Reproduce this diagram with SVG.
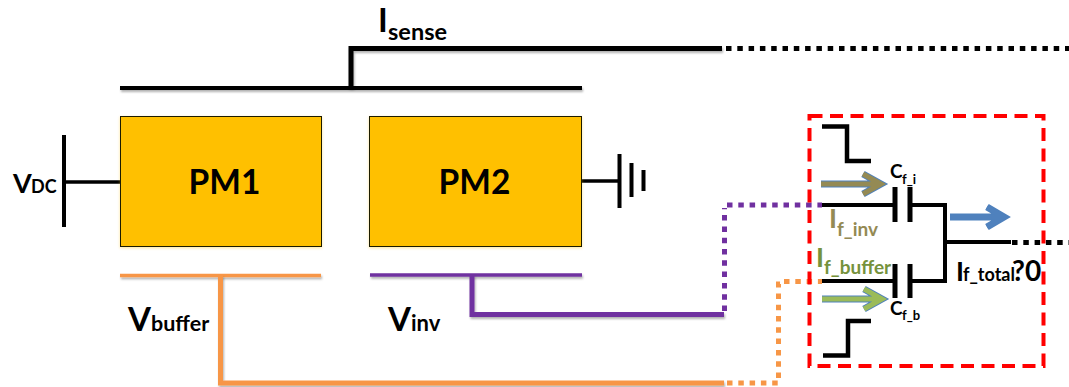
<svg xmlns="http://www.w3.org/2000/svg" width="1069" height="387" viewBox="0 0 1069 387">
<style>
text{font-family:Lato,"Liberation Sans",sans-serif;font-weight:700;fill:#000}
.w{fill:none;stroke-linejoin:miter;stroke-linecap:butt}
.k{stroke:#000}
.o{stroke:#F79646}
.p{stroke:#7030A0}
.d{stroke-dasharray:5.5 5.8}
.pm{fill:#FFC000;stroke:#1f1a00;stroke-width:1}
.pml{font-size:33.500px;text-anchor:middle}
.big{font-size:33px}
.sub{font-size:19px}
.oli{fill:#948A54}
.grn{fill:#76923C}
.ao{fill:none;stroke:#4F81BD;stroke-width:7;stroke-linecap:butt;stroke-linejoin:miter}
.ai{fill:none;stroke-width:5;stroke-linecap:butt;stroke-linejoin:miter}
.tip{fill:none;stroke:#4F81BD;stroke-width:7;stroke-linecap:round}
</style>
<defs>
<filter id="sh" x="0" y="0" width="1069" height="387" filterUnits="userSpaceOnUse"><feDropShadow dx="1" dy="2" stdDeviation="1.2" flood-color="#000" flood-opacity=".3"/></filter>
<filter id="gl" x="100" y="100" width="500" height="165" filterUnits="userSpaceOnUse"><feDropShadow dx="0" dy="1" stdDeviation="1.5" flood-color="#FFC000" flood-opacity=".4"/></filter>
<path id="chev" d="M-63 0H-4M-21 -10L-3 0L-21 10"/>
<path id="chev2" d="M-57 0H-4M-20 -10L-3 0L-20 10"/>
</defs>

<g id="connectors">
<g id="bus-top">
<path class="w k" stroke-width="4" d="M120 88H582" filter="url(#sh)"/>
<path class="w k" stroke-width="5" d="M351 88V48.500H722" filter="url(#sh)"/>
<path class="w k d" stroke-width="5" d="M726 48.500H1069"/>
</g>
<g id="vdc-wire">
<path class="w k" stroke-width="4" d="M64 135V227"/>
<path class="w k" stroke-width="3.500" d="M64 182H120"/>
</g>
<g id="ground">
<path class="w k" stroke-width="3.500" d="M582 181H619"/>
<path class="w k" stroke-width="4" d="M619.500 154V208M631.500 163V197M643.500 170V191"/>
</g>
<g id="buffer-wire">
<path class="w o" stroke-width="3.500" d="M120 275.500H321" filter="url(#sh)"/>
<path class="w o" stroke-width="5" d="M220.500 275.500V383H724" filter="url(#sh)"/>
<path class="w o d" stroke-width="5" d="M727 383H778.500V284H780M784 281.500H822"/>
</g>
<g id="inv-wire">
<path class="w p" stroke-width="3.500" d="M370 275H582" filter="url(#sh)"/>
<path class="w p" stroke-width="5" d="M472 275V314.500H724" filter="url(#sh)"/>
<path class="w p d" stroke-width="5" d="M724.500 311V208M727 205H822"/>
</g>
<path id="red-box" class="w" stroke="#FF0000" stroke-width="4" stroke-dasharray="13 7.500" d="M809.500 116H1043.500V366H809.500Z"/>
<g id="caps">
<path class="w k" stroke-width="4.500" d="M822 126.500H847V161H871M823 355.500H848V321H871"/>
<path class="w k" stroke-width="4" d="M822 205H895M822 281H895M910 205H945V281H910M945 242H1011"/>
<path class="w k" stroke-width="5" d="M895 187V222M910 187V222M895 264V298M910 264V298"/>
<path class="w k d" stroke-width="5" d="M1012 242.500H1069"/>
</g>
<g id="arrows">
<use href="#chev" class="ao" x="884" y="184"/><use href="#chev" class="ai" stroke="#948A54" x="884" y="184"/>
<use href="#chev" class="ao" x="885" y="299"/><use href="#chev" class="ai" stroke="#9BBB59" x="885" y="299"/>
<use href="#chev2" class="ao" x="1007" y="217"/><use href="#chev2" class="ai" stroke="#4F81BD" x="1007" y="217"/>
</g>
</g>

<g id="pm1"><rect class="pm" x="120.500" y="116.500" width="201" height="130" filter="url(#gl)"/><text class="pml" x="224.500" y="194">PM1</text></g>
<g id="pm2"><rect class="pm" x="369.500" y="116.500" width="212" height="130" filter="url(#gl)"/><text class="pml" x="474.500" y="194">PM2</text></g>

<g id="labels">
<text x="378" y="32" class="big">I</text><text x="388" y="40" font-size="23.500">sense</text>
<text x="13" y="193" font-size="27">V</text><text x="31" y="193" font-size="18">DC</text>
<text x="128" y="331" font-size="33">V</text><text x="151" y="331" font-size="21.500">buffer</text>
<text x="388" y="331" font-size="33">V</text><text x="411" y="331" font-size="22">inv</text>
<text x="890" y="178" font-size="19">C</text><text x="902" y="184" font-size="13">f_i</text>
<text x="890" y="315" font-size="19">C</text><text x="902" y="320" font-size="13">f_b</text>
<text x="829" y="228" font-size="27" class="oli">I</text><text x="837" y="236" class="sub oli">f_inv</text>
<text x="816" y="267" font-size="27" class="grn">I</text><text x="824" y="274" class="sub grn">f_buffer</text>
<text x="956" y="281" font-size="27">I</text><text x="963" y="281" font-size="18">f_total</text>
<text x="1012" y="281" font-size="28">?0</text>
</g>
</svg>
